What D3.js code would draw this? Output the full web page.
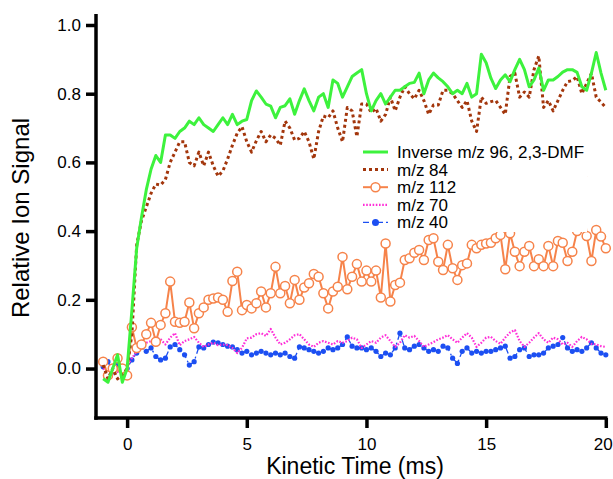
<!DOCTYPE html>
<html>
<head>
<meta charset="utf-8">
<script src="https://cdn.jsdelivr.net/npm/d3@7.9.0/dist/d3.min.js"></script>
<style>
  body { margin: 0; background: #fff; }
  svg { font-family: "Liberation Sans", Arial, Helvetica, sans-serif; }
</style>
</head>
<body>
<svg id="chart" width="613" height="479"></svg>
<script>
// kinetic time grid (ms)
const times = [
  -1.0, -0.8, -0.6, -0.4, -0.2, 0.0, 0.2, 0.4, 0.6, 0.8,
  1.0, 1.2, 1.4, 1.6, 1.8, 2.0, 2.2, 2.4, 2.6, 2.8,
  3.0, 3.2, 3.4, 3.6, 3.8, 4.0, 4.2, 4.4, 4.6, 4.8,
  5.0, 5.2, 5.4, 5.6, 5.8, 6.0, 6.2, 6.4, 6.6, 6.8,
  7.0, 7.2, 7.4, 7.6, 7.8, 8.0, 8.2, 8.4, 8.6, 8.8,
  9.0, 9.2, 9.4, 9.6, 9.8, 10.0, 10.2, 10.4, 10.6, 10.8,
  11.0, 11.2, 11.4, 11.6, 11.8, 12.0, 12.2, 12.4, 12.6, 12.8,
  13.0, 13.2, 13.4, 13.6, 13.8, 14.0, 14.2, 14.4, 14.6, 14.8,
  15.0, 15.2, 15.4, 15.6, 15.8, 16.0, 16.2, 16.4, 16.6, 16.8,
  17.0, 17.2, 17.4, 17.6, 17.8, 18.0, 18.2, 18.4, 18.6, 18.8,
  19.0, 19.2, 19.4, 19.6, 19.8, 20.0
];

// Inverse m/z 96, 2,3-DMF
const inv96 = [
  -0.03, -0.04, 0.00, 0.04, -0.04, 0.00, 0.17, 0.35, 0.44, 0.52,
  0.58, 0.62, 0.60, 0.68, 0.68, 0.67, 0.69, 0.70, 0.72, 0.71,
  0.73, 0.71, 0.70, 0.69, 0.71, 0.73, 0.71, 0.74, 0.71, 0.72,
  0.725, 0.78, 0.808, 0.79, 0.77, 0.764, 0.73, 0.76, 0.765, 0.785,
  0.74, 0.78, 0.814, 0.78, 0.75, 0.79, 0.80, 0.76, 0.84, 0.83,
  0.79, 0.82, 0.85, 0.86, 0.87, 0.80, 0.75, 0.78, 0.80, 0.77,
  0.79, 0.81, 0.81, 0.82, 0.83, 0.833, 0.86, 0.80, 0.84, 0.86,
  0.846, 0.835, 0.82, 0.80, 0.81, 0.80, 0.83, 0.79, 0.80, 0.915,
  0.89, 0.845, 0.815, 0.84, 0.855, 0.835, 0.87, 0.90, 0.87, 0.82,
  0.84, 0.875, 0.81, 0.84, 0.84, 0.85, 0.863, 0.87, 0.87, 0.862,
  0.82, 0.81, 0.86, 0.92, 0.86, 0.81
];

// m/z 84
const mz84 = [
  0.01, -0.03, 0.00, -0.03, -0.02, 0.00, 0.10, 0.36, 0.43, 0.47,
  0.51, 0.537, 0.534, 0.55, 0.60, 0.63, 0.66, 0.66, 0.60, 0.59,
  0.63, 0.59, 0.63, 0.59, 0.56, 0.575, 0.61, 0.65, 0.685, 0.704,
  0.66, 0.63, 0.663, 0.69, 0.66, 0.68, 0.67, 0.65, 0.72, 0.70,
  0.665, 0.67, 0.69, 0.66, 0.61, 0.69, 0.735, 0.73, 0.75, 0.70,
  0.66, 0.76, 0.75, 0.675, 0.77, 0.77, 0.745, 0.757, 0.72, 0.74,
  0.79, 0.75, 0.79, 0.82, 0.80, 0.785, 0.81, 0.78, 0.74, 0.767,
  0.767, 0.81, 0.81, 0.80, 0.78, 0.76, 0.78, 0.72, 0.69, 0.79,
  0.772, 0.777, 0.78, 0.76, 0.74, 0.85, 0.86, 0.79, 0.805, 0.79,
  0.87, 0.91, 0.76, 0.78, 0.75, 0.78, 0.81, 0.835, 0.838, 0.85,
  0.80, 0.83, 0.859, 0.79, 0.775, 0.76
];

// m/z 112
const mz112 = [
  0.02, -0.02, 0.00, 0.03, 0.00, -0.02, 0.12, 0.06, 0.07, 0.10,
  0.133, 0.078, 0.127, 0.161, 0.253, 0.136, 0.133, 0.136, 0.192, 0.117,
  0.161, 0.178, 0.20, 0.204, 0.207, 0.20, 0.165, 0.255, 0.282, 0.17,
  0.185, 0.175, 0.19, 0.224, 0.178, 0.219, 0.296, 0.219, 0.24, 0.19,
  0.258, 0.20, 0.236, 0.248, 0.275, 0.267, 0.219, 0.175, 0.224, 0.238,
  0.325, 0.231, 0.267, 0.304, 0.253, 0.285, 0.253, 0.285, 0.207, 0.364,
  0.195, 0.243, 0.25, 0.316, 0.321, 0.337, 0.345, 0.316, 0.374, 0.379,
  0.311, 0.287, 0.36, 0.292, 0.258, 0.301, 0.306, 0.36, 0.35, 0.36,
  0.364, 0.366, 0.379, 0.389, 0.289, 0.394, 0.34, 0.298, 0.34, 0.357,
  0.298, 0.318, 0.298, 0.357, 0.298, 0.371, 0.366, 0.313, 0.34, 0.40,
  0.56, 0.386, 0.313, 0.403, 0.384, 0.35
];

// m/z 70
const mz70 = [
  0.00, -0.01, 0.01, -0.01, 0.00, 0.01, 0.03, 0.05, 0.065, 0.075,
  0.08, 0.09, 0.085, 0.07, 0.09, 0.103, 0.068, 0.08, 0.085, 0.092,
  0.075, 0.063, 0.07, 0.075, 0.068, 0.07, 0.068, 0.06, 0.045, 0.06,
  0.088, 0.09, 0.10, 0.103, 0.095, 0.115, 0.09, 0.07, 0.075, 0.085,
  0.097, 0.10, 0.085, 0.07, 0.063, 0.075, 0.08, 0.075, 0.07, 0.08,
  0.075, 0.08, 0.09, 0.085, 0.06, 0.07, 0.08, 0.075, 0.09, 0.097,
  0.08, 0.063, 0.075, 0.097, 0.09, 0.095, 0.08, 0.063, 0.07, 0.077,
  0.085, 0.09, 0.097, 0.085, 0.075, 0.09, 0.103, 0.09, 0.063, 0.075,
  0.09, 0.092, 0.08, 0.072, 0.09, 0.105, 0.112, 0.08, 0.063, 0.075,
  0.09, 0.103, 0.085, 0.075, 0.09, 0.085, 0.07, 0.075, 0.063, 0.08,
  0.092, 0.085, 0.072, 0.07, 0.065, 0.063
];

// m/z 40
const mz40 = [
  0.005, 0.02, -0.01, 0.01, 0.00, 0.00, 0.025, 0.045, 0.063, 0.05,
  0.06, 0.035, 0.025, 0.03, 0.063, 0.07, 0.055, 0.04, 0.01, 0.02,
  0.063, 0.06, 0.07, 0.077, 0.075, 0.07, 0.065, 0.063, 0.055, 0.045,
  0.05, 0.04, 0.045, 0.05, 0.045, 0.04, 0.045, 0.04, 0.045, 0.035,
  0.03, 0.063, 0.06, 0.055, 0.05, 0.045, 0.05, 0.06, 0.055, 0.06,
  0.07, 0.092, 0.065, 0.06, 0.06, 0.055, 0.06, 0.05, 0.035, 0.045,
  0.04, 0.06, 0.103, 0.06, 0.055, 0.065, 0.07, 0.06, 0.05, 0.055,
  0.05, 0.065, 0.06, 0.03, 0.015, 0.05, 0.06, 0.045, 0.05, 0.045,
  0.05, 0.05, 0.055, 0.06, 0.065, 0.03, 0.035, 0.055, 0.06, 0.035,
  0.04, 0.04, 0.045, 0.06, 0.065, 0.07, 0.09, 0.06, 0.05, 0.055,
  0.05, 0.06, 0.075, 0.06, 0.045, 0.04
];

const xTicks = [0, 5, 10, 15, 20];
const yTicks = [0.0, 0.2, 0.4, 0.6, 0.8, 1.0];

const svg = d3.select('#chart');
const x = d3.scaleLinear().domain([-1.3, 20]).range([96, 605.8]);
const y = d3.scaleLinear().domain([-0.144, 1.032]).range([418, 14]);

const series = [
  { name: 'm/z 40', values: mz40, color: '#1c4ff2', width: 1.3, dash: '6,3,2,3', marker: 'dot' },
  { name: 'm/z 70', values: mz70, color: '#ff2ed8', width: 2.2, dash: '1.6,1.6' },
  { name: 'm/z 112', values: mz112, color: '#f6834a', width: 2, marker: 'ring' },
  { name: 'm/z 84', values: mz84, color: '#a3360c', width: 3, dash: '3,3' },
  { name: 'Inverse m/z 96, 2,3-DMF', values: inv96, color: '#3df23d', width: 3 }
];

const line = d3.line().x(d => x(d[0])).y(d => y(d[1]));

series.forEach(s => {
  const pts = times.map((t, i) => [t, s.values[i]]);
  svg.append('path')
    .attr('d', line(pts))
    .attr('fill', 'none')
    .attr('stroke', s.color)
    .attr('stroke-width', s.width)
    .attr('stroke-dasharray', s.dash || null)
    .attr('stroke-linejoin', 'round');
  if (s.marker === 'ring') {
    svg.append('g').selectAll('circle').data(pts).join('circle')
      .attr('cx', d => x(d[0])).attr('cy', d => y(d[1])).attr('r', 4.5)
      .attr('fill', '#fff').attr('stroke', s.color).attr('stroke-width', 1.5);
  } else if (s.marker === 'dot') {
    svg.append('g').selectAll('circle').data(pts).join('circle')
      .attr('cx', d => x(d[0])).attr('cy', d => y(d[1])).attr('r', 2.6)
      .attr('fill', s.color);
  }
});

// axes
const yAxis = svg.append('g').attr('transform', 'translate(96,0)')
  .call(d3.axisLeft(y).tickValues(yTicks).tickFormat(d3.format('.1f')).tickSize(10).tickPadding(5));
const xAxis = svg.append('g').attr('transform', 'translate(0,418)')
  .call(d3.axisBottom(x).tickValues(xTicks).tickSize(10).tickPadding(10));

[xAxis, yAxis].forEach(g => {
  g.select('.domain').attr('stroke', '#000').attr('stroke-width', 3.5);
  g.selectAll('.tick line').attr('stroke', '#000').attr('stroke-width', 3.5);
  g.selectAll('.tick text').attr('fill', '#000').attr('font-size', 17)
    .attr('font-family', '"Liberation Sans", Arial, sans-serif');
});
yAxis.select('.domain').attr('d', `M0,${y.range()[1]}V${418 + 1.75}`);
xAxis.select('.domain').attr('d', `M${96 - 1.75},0H${x.range()[1] + 1.75}`);
// last label sits against the right edge, as in the original
xAxis.selectAll('.tick text').filter(d => d === 20).attr('dx', -3);

svg.append('text')
  .attr('transform', 'translate(29,218) rotate(-90)')
  .attr('text-anchor', 'middle')
  .attr('font-size', 24)
  .text('Relative Ion Signal');

svg.append('text')
  .attr('x', 355).attr('y', 474)
  .attr('text-anchor', 'middle')
  .attr('font-size', 23)
  .text('Kinetic Time (ms)');

// legend
const legend = svg.append('g').attr('transform', 'translate(361,142)');
legend.append('rect').attr('width', 226).attr('height', 90).attr('fill', '#fff');
const legendOrder = [series[4], series[3], series[2], series[1], series[0]];
legendOrder.forEach((s, i) => {
  const row = legend.append('g').attr('transform', `translate(0,${10 + i * 17.6})`);
  row.append('line').attr('x1', 2).attr('x2', 27).attr('y1', 0).attr('y2', 0)
    .attr('stroke', s.color).attr('stroke-width', s.width)
    .attr('stroke-dasharray', s.dash || null);
  if (s.marker === 'ring') {
    row.append('circle').attr('cx', 14.5).attr('cy', 0).attr('r', 4.5)
      .attr('fill', '#fff').attr('stroke', s.color).attr('stroke-width', 1.5);
  } else if (s.marker === 'dot') {
    row.append('circle').attr('cx', 14.5).attr('cy', 0).attr('r', 3.5).attr('fill', s.color);
  }
  row.append('text').attr('x', 36).attr('y', 6).attr('font-size', 17).text(s.name);
});
</script>
</body>
</html>
